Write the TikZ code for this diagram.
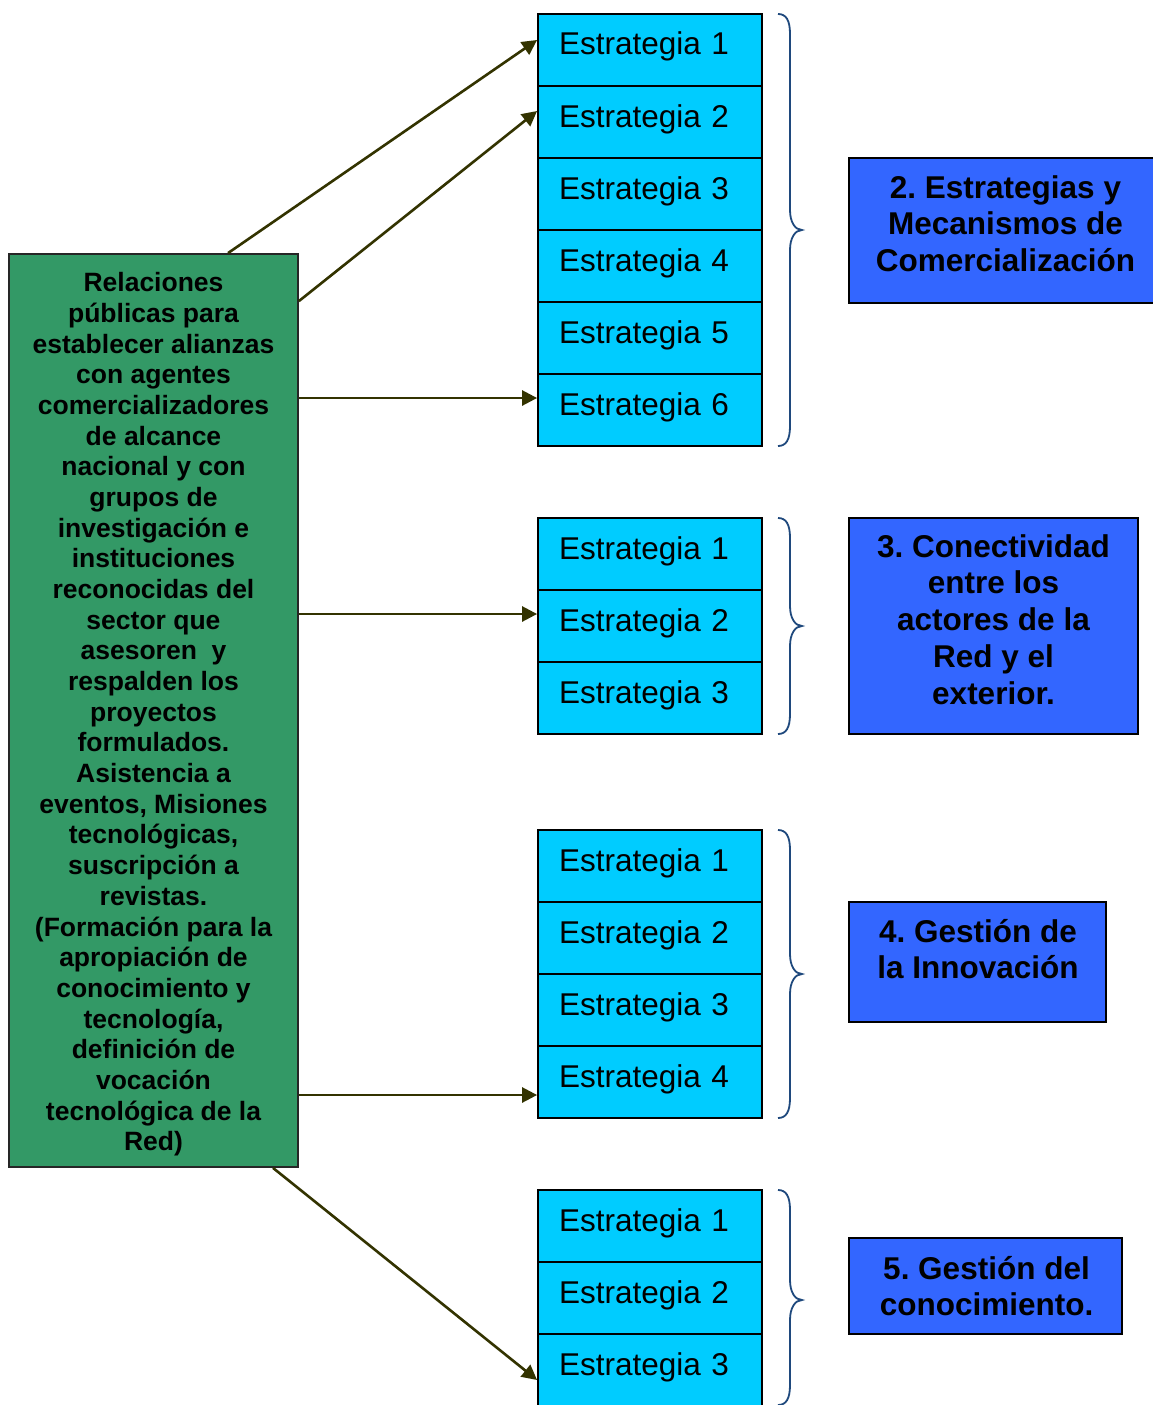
\documentclass[tikz,border=0pt]{standalone}
\usepackage{fontspec}
\setmainfont{Liberation Sans}
\usetikzlibrary{arrows.meta,calc}
\frenchspacing
\definecolor{greenfill}{HTML}{339966}
\definecolor{cyanfill}{HTML}{00CCFF}
\definecolor{bluefill}{HTML}{3366FF}
\definecolor{arrowcol}{HTML}{333300}
\definecolor{bracecol}{HTML}{1F497D}
\newcommand{\mybrace}[3]{% top, mid, bottom
  \draw[bracestyle] (778,#1) .. controls (786,#1) and (790,#1+6) .. (790,#1+20)
    -- (790,#2-20) .. controls (790,#2-8) and (795,#2) .. (802,#2)
    .. controls (795,#2) and (790,#2+8) .. (790,#2+20)
    -- (790,#3-20) .. controls (790,#3-6) and (786,#3) .. (778,#3);}
\tikzset{
  stratbox/.style={draw=black, line width=1.8pt, fill=cyanfill, rectangle,
    minimum width=224pt, minimum height=72pt, inner xsep=21pt, inner ysep=0pt,
    text width=182pt, align=left, text height=31pt, text depth=21pt,
    font=\fontsize{31.5}{36}\selectfont},
  greenbox/.style={draw=black!85, line width=1.8pt, fill=greenfill, rectangle,
    minimum width=289pt, minimum height=913pt, inner sep=0pt, align=center,
    font=\bfseries\fontsize{26.5}{30.68}\selectfont},
  bluebox/.style={draw=black, line width=1.8pt, fill=bluefill, rectangle, inner sep=0pt},
  bluetext/.style={inner sep=0pt, anchor=base, font=\bfseries\fontsize{31.5}{36.75}\selectfont},
  arr/.style={draw=arrowcol, line width=2.6pt, -{Triangle[length=15pt,width=15pt]}},
  bracestyle/.style={draw=bracecol, line width=1.8pt}
}
\begin{document}
\begin{tikzpicture}[x=1pt,y=-1pt]
\useasboundingbox (0,0) rectangle (1152,1405);
\fill[white] (0,0) rectangle (1152,1405);

% green box
\node[greenbox] (green) at (153.5,710.5) {\rule{0pt}{27pt}Relaciones\\ públicas para\\ establecer alianzas\\ con agentes\\ comercializadores\\ de alcance\\ nacional y con\\ grupos de\\ investigación e\\ instituciones\\ reconocidas del\\ sector que\\ asesoren\ \ y\\ respalden los\\ proyectos\\ formulados.\\ Asistencia a\\ eventos, Misiones\\ tecnológicas,\\ suscripción a\\ revistas.\\ (Formación para la\\ apropiación de\\ conocimiento y\\ tecnología,\\ definición de\\ vocación\\ tecnológica de la\\ Red)};

% strategy boxes group 1
\node[stratbox] (s11) at (650,50) {Estrategia 1};
\node[stratbox] (s12) at (650,122) {Estrategia 2};
\node[stratbox] (s13) at (650,194) {Estrategia 3};
\node[stratbox] (s14) at (650,266) {Estrategia 4};
\node[stratbox] (s15) at (650,338) {Estrategia 5};
\node[stratbox] (s16) at (650,410) {Estrategia 6};
% group 2
\node[stratbox] (s21) at (650,554) {Estrategia 1};
\node[stratbox] (s22) at (650,626) {Estrategia 2};
\node[stratbox] (s23) at (650,698) {Estrategia 3};
% group 3
\node[stratbox] (s31) at (650,866) {Estrategia 1};
\node[stratbox] (s32) at (650,938) {Estrategia 2};
\node[stratbox] (s33) at (650,1010) {Estrategia 3};
\node[stratbox] (s34) at (650,1082) {Estrategia 4};
% group 4
\node[stratbox] (s41) at (650,1226) {Estrategia 1};
\node[stratbox] (s42) at (650,1298) {Estrategia 2};
\node[stratbox] (s43) at (650,1370) {Estrategia 3};

% braces
\mybrace{14}{230}{446}
\mybrace{518}{626}{734}
\mybrace{830}{974}{1118}
\mybrace{1190}{1300}{1405}

% blue boxes
\node[bluebox, minimum width=309pt, minimum height=145pt] (b2) at (1003.5,230.5) {};
\node[bluebox, minimum width=289pt, minimum height=216pt] (b3) at (993.5,626) {};
\node[bluebox, minimum width=257pt, minimum height=120pt] (b4) at (977.5,962) {};
\node[bluebox, minimum width=273pt, minimum height=96pt] (b5) at (985.5,1286) {};

\node[bluetext] (t2) at ([xshift=2pt,yshift=-41pt]b2.north) {\begin{minipage}[t]{300pt}\centering 2. Estrategias y\\ Mecanismos de\\ Comercialización\end{minipage}};
\node[bluetext] (t3) at ([yshift=-40pt]b3.north) {\begin{minipage}[t]{280pt}\centering 3. Conectividad\\ entre los\\ actores de la\\ Red y el\\ exterior.\end{minipage}};
\node[bluetext] (t4) at ([xshift=0.5pt,yshift=-41pt]b4.north) {\begin{minipage}[t]{250pt}\centering 4. Gestión de\\ la Innovación\end{minipage}};
\node[bluetext] (t5) at ([xshift=1pt,yshift=-42pt]b5.north) {\begin{minipage}[t]{265pt}\centering 5. Gestión del\\ conocimiento.\end{minipage}};

% arrow end points
\coordinate (e1) at ([yshift=10pt]s11.west);
\coordinate (e2) at ([yshift=11pt]s12.west);
\coordinate (e3) at ([yshift=12pt]s16.west);
\coordinate (e4) at ([yshift=12pt]s22.west);
\coordinate (e5) at ([yshift=-13pt]s34.west);
\coordinate (e6) at ([yshift=-10pt]s43.west);

\draw[arr] ([xshift=74.5pt]green.north) -- (e1);
\draw[arr] ([yshift=-48pt]green.north east) -- (e2);
\draw[arr] (green.east |- e3) -- (e3);
\draw[arr] (green.east |- e4) -- (e4);
\draw[arr] (green.east |- e5) -- (e5);
\draw[arr] ([xshift=119.5pt]green.south) -- (e6);
\end{tikzpicture}
\end{document}
